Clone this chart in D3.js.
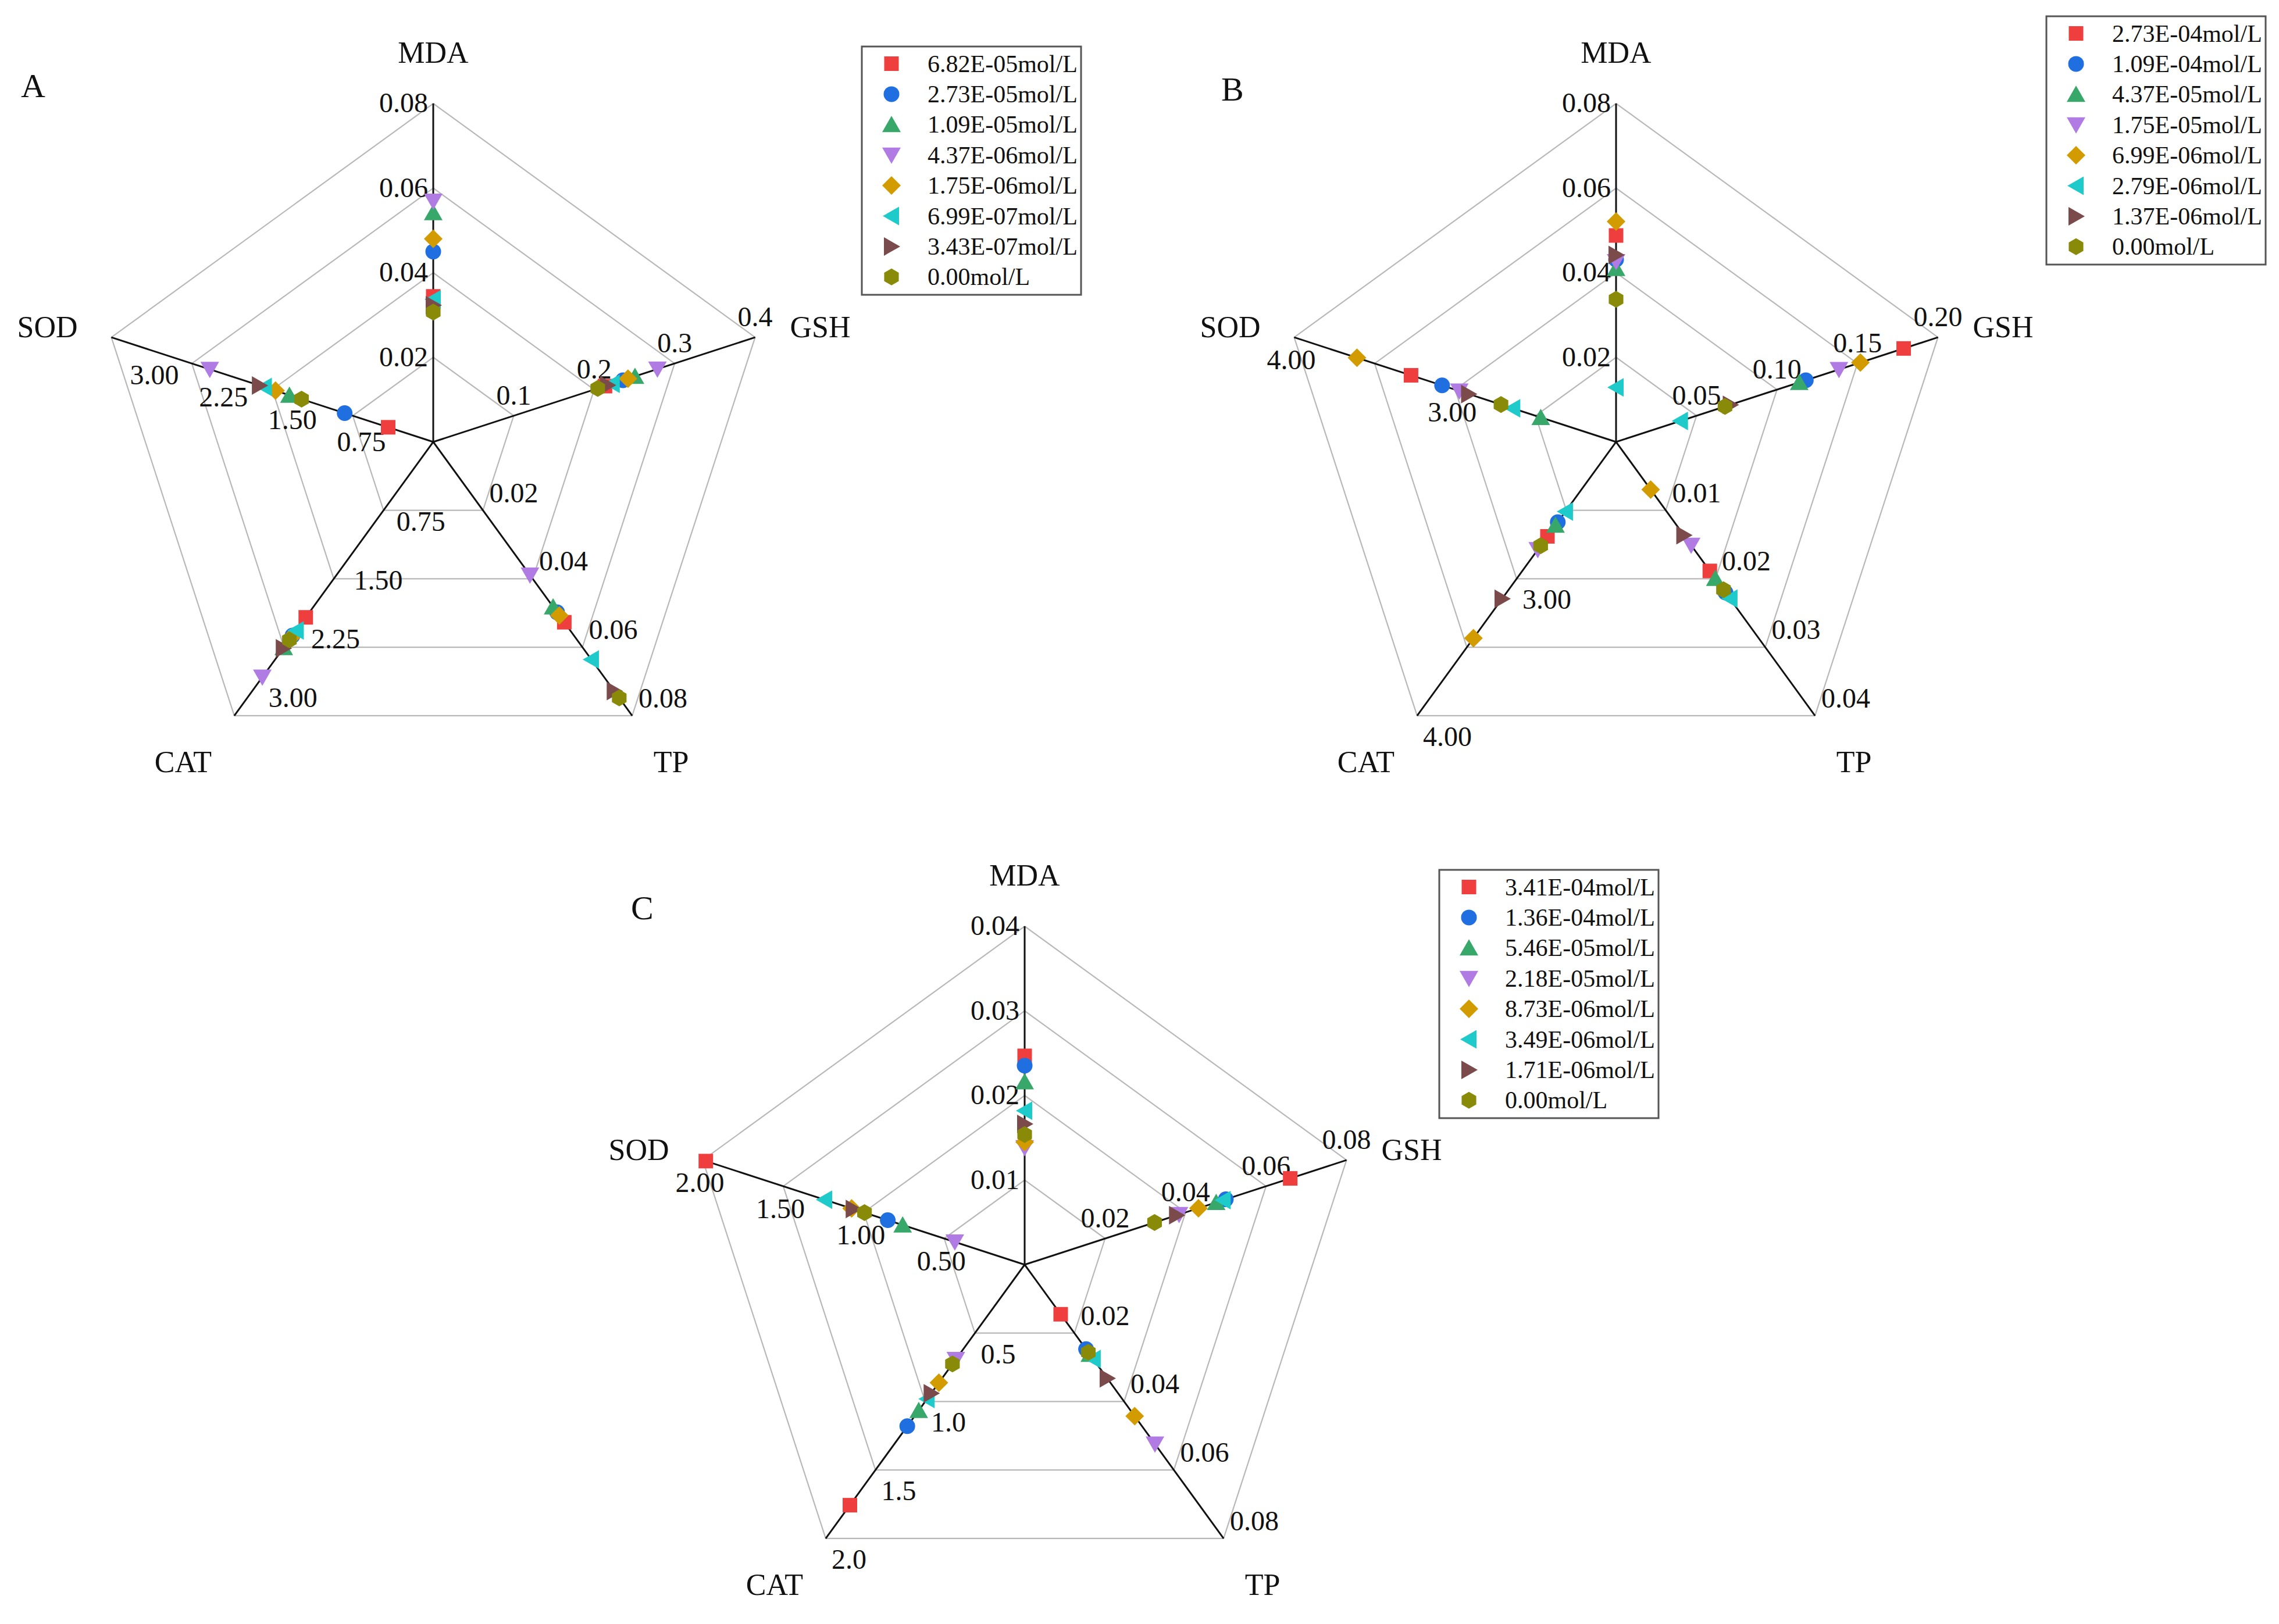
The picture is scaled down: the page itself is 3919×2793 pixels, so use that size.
<!DOCTYPE html>
<html>
<head>
<meta charset="utf-8">
<script src="https://cdn.jsdelivr.net/npm/d3@7"></script>
<style>
  body { margin: 0; background: #fff; }
  text { font-family: "Liberation Serif", "Times New Roman", serif; fill: #111; }
</style>
</head>
<body>
<svg id="chart" width="3919" height="2793"></svg>
<script>
// axis order: MDA, GSH, TP, CAT, SOD
const axisNames = ["MDA", "GSH", "TP", "CAT", "SOD"];

const concA = ["6.82E-05mol/L", "2.73E-05mol/L", "1.09E-05mol/L", "4.37E-06mol/L",
               "1.75E-06mol/L", "6.99E-07mol/L", "3.43E-07mol/L", "0.00mol/L"];
const valuesA = [
  [0.0344, 0.2134, 0.0527, 2.243, 0.490],
  [0.0450, 0.2358, 0.0498, 2.476, 0.963],
  [0.0542, 0.2507, 0.0482, 2.630, 1.564],
  [0.0569, 0.2786, 0.0389, 3.007, 2.430],
  [0.0480, 0.2420, 0.0507, 2.500, 1.715],
  [0.0337, 0.2224, 0.0636, 2.410, 1.837],
  [0.0323, 0.2166, 0.0728, 2.638, 1.890],
  [0.0307, 0.2044, 0.0748, 2.531, 1.432]
];
const domainsA = [[0, 0.08], [0, 0.4], [0, 0.08], [0, 3.5], [0, 3.5]];
const ticksA = [[0.02, 0.04, 0.06, 0.08], [0.1, 0.2, 0.3, 0.4], [0.02, 0.04, 0.06, 0.08],
                [0.75, 1.5, 2.25, 3.0], [0.75, 1.5, 2.25, 3.0]];
const formatsA = [".2f", ".1f", ".2f", ".2f", ".2f"];

const concB = ["2.73E-04mol/L", "1.09E-04mol/L", "4.37E-05mol/L", "1.75E-05mol/L",
               "6.99E-06mol/L", "2.79E-06mol/L", "1.37E-06mol/L", "0.00mol/L"];
const valuesB = [
  [0.0488, 0.1787, 0.01885, 2.690, 3.274],
  [0.0431, 0.1179, 0.0220, 2.586, 3.081],
  [0.0410, 0.1138, 0.01995, 2.609, 2.468],
  [0.0426, 0.1385, 0.0151, 2.787, 2.974],
  [0.0521, 0.1518, 0.00696, 3.434, 3.610],
  [0.0129, 0.0400, 0.0229, 2.509, 2.642],
  [0.0442, 0.0710, 0.01363, 3.146, 2.916],
  [0.0337, 0.0677, 0.0216, 2.758, 2.715]
];
const domainsB = [[0, 0.08], [0, 0.2], [0, 0.04], [2, 4], [2, 4]];
const ticksB = [[0.02, 0.04, 0.06, 0.08], [0.05, 0.10, 0.15, 0.20], [0.01, 0.02, 0.03, 0.04],
                [3.0, 4.0], [3.0, 4.0]];
const formatsB = [".2f", ".2f", ".2f", ".2f", ".2f"];

const concC = ["3.41E-04mol/L", "1.36E-04mol/L", "5.46E-05mol/L", "2.18E-05mol/L",
               "8.73E-06mol/L", "3.49E-06mol/L", "1.71E-06mol/L", "0.00mol/L"];
const valuesC = [
  [0.02468, 0.0660, 0.01449, 1.757, 1.981],
  [0.02353, 0.0500, 0.0247, 1.180, 0.8505],
  [0.02162, 0.0476, 0.0262, 1.065, 0.758],
  [0.01383, 0.03838, 0.0524, 0.692, 0.434],
  [0.01449, 0.0432, 0.04426, 0.8625, 1.075],
  [0.0182, 0.04933, 0.02756, 0.981, 1.243],
  [0.01663, 0.03776, 0.0332, 0.9395, 1.065],
  [0.01537, 0.03229, 0.0256, 0.7258, 0.995]
];
const domainsC = [[0, 0.04], [0, 0.08], [0, 0.08], [0, 2], [0, 2]];
const ticksC = [[0.01, 0.02, 0.03, 0.04], [0.02, 0.04, 0.06, 0.08], [0.02, 0.04, 0.06, 0.08],
                [0.5, 1.0, 1.5, 2.0], [0.5, 1.0, 1.5, 2.0]];
const formatsC = [".2f", ".2f", ".2f", ".1f", ".2f"];

// ---- styling / layout ----
const R = 582;
const angles = [90, 18, -54, -126, 162];
const colors = ["#ef3e3e", "#1f6fe0", "#37a86a", "#b07ce3", "#d29b00", "#1fcaca", "#7b4b4b", "#888a08"];

// tick label placement per axis
const tickPos = [
  { anchor: "end", dx: -9, dy: 15 },
  { anchor: "middle", dx: 0, dy: -19 },
  { anchor: "start", dx: 11, dy: -14 },
  { anchor: "start", dx: 10, dy: 52 },
  { anchor: "middle", dx: -5, dy: 55 }
];
// axis title placement per axis
const titlePos = [
  { anchor: "middle", dx: 0, dy: -70 },
  { anchor: "start", dx: 60, dy: 0 },
  { anchor: "middle", dx: 67, dy: 97 },
  { anchor: "middle", dx: -88, dy: 97 },
  { anchor: "end", dx: -58, dy: 0 }
];

const poly = pts => ({
  draw(ctx) {
    pts.forEach(([x, y], i) => i ? ctx.lineTo(x, y) : ctx.moveTo(x, y));
    ctx.closePath();
  }
});
const hexPts = d3.range(6).map(i => {
  const a = (-90 + 60 * i) * Math.PI / 180;
  return [14.5 * Math.cos(a), 14.5 * Math.sin(a)];
});
const symbolTypes = [
  poly([[-12.5, -12.5], [12.5, -12.5], [12.5, 12.5], [-12.5, 12.5]]),
  { draw(ctx) { ctx.moveTo(13.5, 0); ctx.arc(0, 0, 13.5, 0, 2 * Math.PI); } },
  poly([[0, -15], [16, 13], [-16, 13]]),
  poly([[0, 15], [16, -13], [-16, -13]]),
  poly([[0, -16], [16, 0], [0, 16], [-16, 0]]),
  poly([[-15, 0], [13, -16], [13, 16]]),
  poly([[15, 0], [-13, -16], [-13, 16]]),
  poly(hexPts)
];
const symbol = d3.symbol();

const panels = [
  { letter: "A", cx: 745, cy: 760, lx: 36, ly: 167, legX: 1482, legY: 80,
    conc: concA, values: valuesA, domains: domainsA, ticks: ticksA, formats: formatsA },
  { letter: "B", cx: 2779, cy: 760, lx: 2100, ly: 173, legX: 3519, legY: 28,
    conc: concB, values: valuesB, domains: domainsB, ticks: ticksB, formats: formatsB },
  { letter: "C", cx: 1762, cy: 2175, lx: 1085, ly: 1581, legX: 2475, legY: 1496,
    conc: concC, values: valuesC, domains: domainsC, ticks: ticksC, formats: formatsC }
];

const svg = d3.select("#chart");
svg.append("rect").attr("width", 3919).attr("height", 2793).attr("fill", "#fff");

const renderPanel = p => {
  const g = svg.append("g").attr("transform", `translate(${p.cx},${p.cy})`);
  const scales = p.domains.map(dom => d3.scaleLinear().domain(dom).range([0, R]));
  const pt = (i, r) => {
    const a = angles[i] * Math.PI / 180;
    return [r * Math.cos(a), -r * Math.sin(a)];
  };

  // grid rings
  const ring = d3.line().curve(d3.curveLinearClosed);
  g.append("g").selectAll("path")
    .data([1, 2, 3, 4])
    .join("path")
    .attr("d", k => ring(axisNames.map((_, i) => pt(i, R * k / 4))))
    .attr("fill", "none")
    .attr("stroke", "#b8b8b8")
    .attr("stroke-width", 2.2);

  // axes
  g.append("g").selectAll("line")
    .data(axisNames)
    .join("line")
    .attr("x1", 0).attr("y1", 0)
    .attr("x2", (d, i) => pt(i, R)[0])
    .attr("y2", (d, i) => pt(i, R)[1])
    .attr("stroke", "#111")
    .attr("stroke-width", 3);

  // tick labels
  axisNames.forEach((name, i) => {
    const fmt = d3.format(p.formats[i]);
    g.append("g").selectAll("text")
      .data(p.ticks[i])
      .join("text")
      .attr("x", v => pt(i, scales[i](v))[0] + tickPos[i].dx)
      .attr("y", v => pt(i, scales[i](v))[1] + tickPos[i].dy)
      .attr("text-anchor", tickPos[i].anchor)
      .style("font-size", "48px")
      .text(fmt);
  });

  // axis titles
  g.append("g").selectAll("text")
    .data(axisNames)
    .join("text")
    .attr("x", (d, i) => pt(i, R)[0] + titlePos[i].dx)
    .attr("y", (d, i) => pt(i, R)[1] + titlePos[i].dy)
    .attr("text-anchor", (d, i) => titlePos[i].anchor)
    .style("font-size", "52px")
    .text(d => d);

  // markers
  p.values.forEach((row, s) => {
    g.append("g").selectAll("path")
      .data(row)
      .join("path")
      .attr("transform", (v, i) => {
        const [x, y] = pt(i, scales[i](v));
        return `translate(${x},${y})`;
      })
      .attr("d", symbol.type(symbolTypes[s])())
      .attr("fill", colors[s]);
  });

  // panel letter
  svg.append("text")
    .attr("x", p.lx).attr("y", p.ly)
    .style("font-size", "58px")
    .text(p.letter);

  // legend
  const leg = svg.append("g").attr("transform", `translate(${p.legX},${p.legY})`);
  leg.append("rect")
    .attr("width", 377).attr("height", 427)
    .attr("fill", "#fff")
    .attr("stroke", "#555")
    .attr("stroke-width", 3);
  const rows = leg.selectAll("g")
    .data(p.conc)
    .join("g")
    .attr("transform", (d, i) => `translate(0,${29.5 + i * 52.4})`);
  rows.append("path")
    .attr("transform", "translate(51,0)")
    .attr("d", (d, i) => symbol.type(symbolTypes[i])())
    .attr("fill", (d, i) => colors[i]);
  rows.append("text")
    .attr("x", 113).attr("y", 14)
    .style("font-size", "42px")
    .text(d => d);
};

panels.forEach(renderPanel);
</script>
</body>
</html>
